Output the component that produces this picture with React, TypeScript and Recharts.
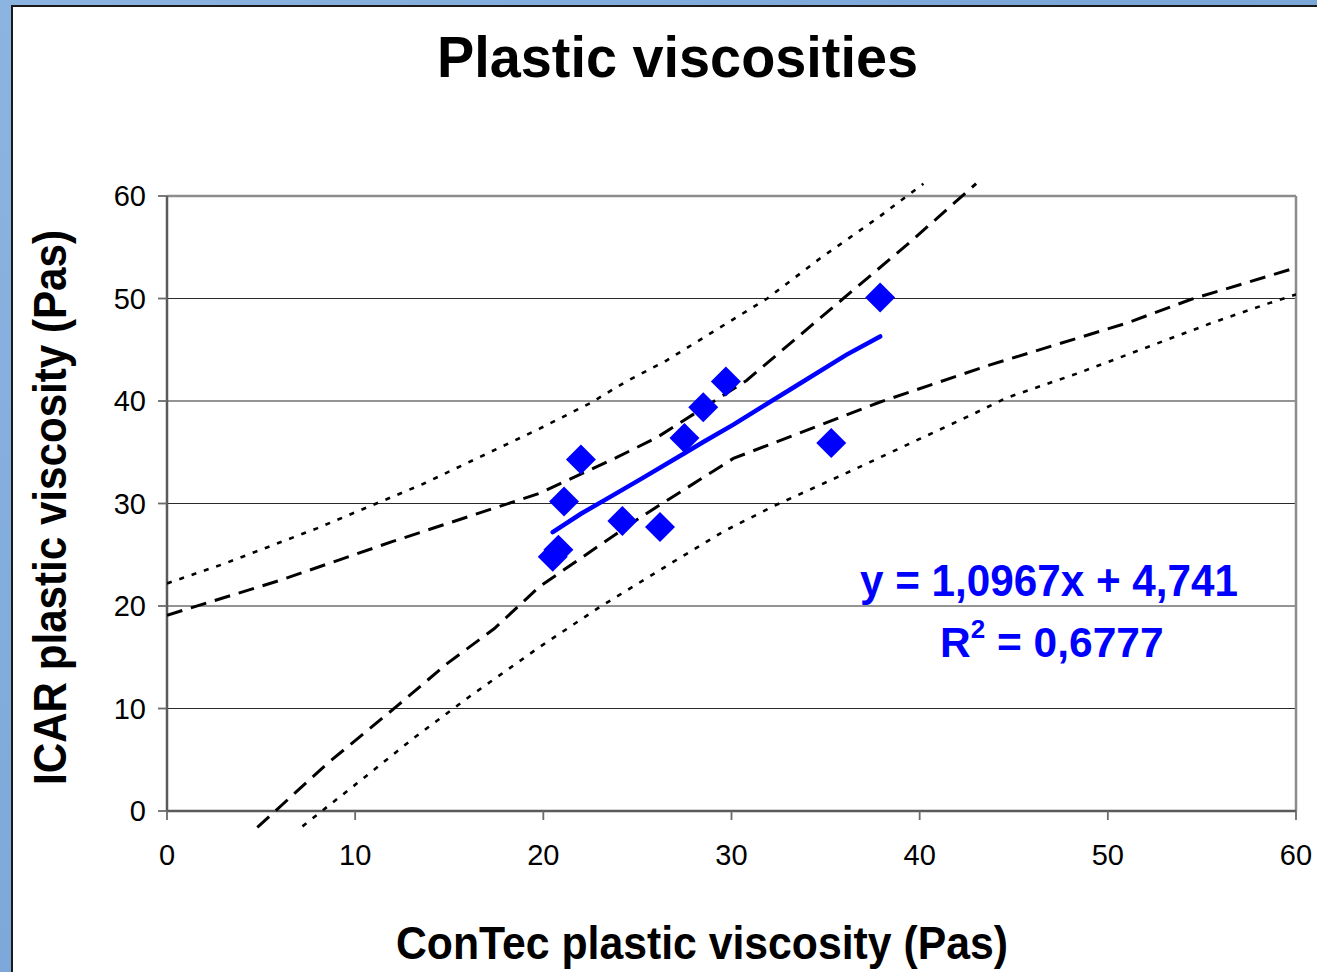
import React from 'react';
import {
  ComposedChart,
  XAxis,
  YAxis,
  CartesianGrid,
  ReferenceLine,
  Line,
  Scatter,
} from 'recharts';

// Measured plastic viscosities (Pas): ConTec on x, ICAR on y
const contecVisc = [20.5, 20.8, 21.1, 22.0, 24.2, 26.2, 27.5, 28.5, 29.7, 35.3, 37.9];
const icarVisc = [24.8, 25.5, 30.2, 34.3, 28.3, 27.7, 36.4, 39.4, 41.9, 35.9, 50.1];

// Linear trend line (y = 1,0967x + 4,741)
const trendX = [20.5, 22.0, 23.6, 25.2, 27.5, 28.5, 30.1, 33.1, 36.1, 37.9];
const trendY = [27.2, 29.0, 30.7, 32.4, 34.9, 36.0, 37.7, 41.1, 44.5, 46.3];

// Confidence band of the mean (dashed)
const confUpperX = [0, 6.0, 12.0, 19.8, 23.9, 26.0, 30.8, 35.1, 39.3, 43.0];
const confUpperY = [19.1, 22.5, 26.3, 31.0, 34.5, 36.4, 42.0, 48.7, 55.2, 61.2];
const confLowerX = [4.8, 8.5, 12.2, 14.9, 17.4, 19.8, 25.2, 30.1, 34.5, 37.9, 43.7, 51.0, 54.4, 60];
const confLowerY = [-1.6, 4.6, 10.2, 14.4, 17.8, 21.9, 28.7, 34.4, 37.5, 39.9, 43.5, 47.6, 49.9, 53.0];

// Prediction band (dotted)
const predUpperX = [0, 3.0, 8.0, 13.6, 19.8, 22.5, 24.4, 26.5, 30.3, 31.9, 34.7, 37.8, 40.2];
const predUpperY = [22.2, 24.1, 27.6, 31.9, 37.3, 39.8, 41.9, 43.9, 48.2, 50.0, 53.9, 57.9, 61.2];
const predLowerX = [7.2, 8.3, 10.1, 13.1, 16.1, 19.8, 23.0, 26.9, 29.6, 32.3, 36.5, 40.0, 42.7, 44.6, 48.4, 52.6, 55.5, 58.5, 60];
const predLowerY = [-1.5, 0.1, 2.7, 7.1, 11.2, 16.0, 19.9, 24.3, 27.3, 29.8, 33.3, 36.3, 38.6, 40.3, 42.7, 45.6, 47.6, 49.5, 50.4];

const axisTicks = [0, 10, 20, 30, 40, 50, 60];

const title = 'Plastic viscosities';
const xTitle = 'ConTec plastic viscosity (Pas)';
const yTitle = 'ICAR plastic viscosity (Pas)';
const equation = 'y = 1,0967x + 4,741';
const rSquared = '0,6777';

const zip = (xs: number[], ys: number[]) => xs.map((x, i) => ({ x, y: ys[i] }));

const points = zip(contecVisc, icarVisc);
const trend = zip(trendX, trendY);
const confUpper = zip(confUpperX, confUpperY);
const confLower = zip(confLowerX, confLowerY);
const predUpper = zip(predUpperX, predUpperY);
const predLower = zip(predLowerX, predLowerY);

const FONT = '"Liberation Sans", Arial, Helvetica, sans-serif';
const BLUE = '#0000ff';
const W = 1317;
const H = 972;

const Diamond = (props: any) => {
  const { cx, cy } = props;
  if (cx == null || cy == null) return null;
  const r = 15;
  return (
    <polygon
      points={`${cx},${cy - r} ${cx + r},${cy} ${cx},${cy + r} ${cx - r},${cy}`}
      fill={BLUE}
    />
  );
};

export default function App() {
  return (
    <div
      style={{
        position: 'absolute',
        left: 0,
        top: 0,
        width: W,
        height: H,
        overflow: 'hidden',
        background: 'linear-gradient(135deg, #8cb4e0 0%, #7aa6d8 50%, #86b0de 100%)',
      }}
    >
      <div
        style={{
          position: 'absolute',
          left: 11,
          top: 5,
          width: 1330,
          height: 990,
          background: '#ffffff',
          border: '2px solid #1a1a1a',
        }}
      />

      {/* axes, gridlines and plot frame */}
      <div style={{ position: 'absolute', left: 0, top: 0 }}>
        <ComposedChart
          width={W}
          height={H}
          data={[{ x: 0, y: 0 }, { x: 60, y: 60 }]}
          margin={{ top: 196, right: 21, bottom: 101, left: 107 }}
        >
          <CartesianGrid vertical={false} stroke="#2a2a2a" strokeWidth={1.2} />
          <XAxis
            type="number"
            dataKey="x"
            domain={[0, 60]}
            ticks={axisTicks}
            allowDataOverflow
            height={60}
            tickSize={9}
            tickMargin={24}
            axisLine={{ stroke: '#5a5a5a', strokeWidth: 2.5 }}
            tickLine={{ stroke: '#6a6a6a', strokeWidth: 1.8 }}
            tick={{ fill: '#000', fontSize: 29, fontFamily: FONT }}
          />
          <YAxis
            type="number"
            dataKey="y"
            domain={[0, 60]}
            ticks={axisTicks}
            allowDataOverflow
            width={60}
            tickSize={9}
            tickMargin={12}
            axisLine={{ stroke: '#5a5a5a', strokeWidth: 2.5 }}
            tickLine={{ stroke: '#6a6a6a', strokeWidth: 1.8 }}
            tick={{ fill: '#000', fontSize: 29, fontFamily: FONT }}
          />
          <ReferenceLine y={60} stroke="#8c8c8c" strokeWidth={2.5} />
          <ReferenceLine x={60} stroke="#8c8c8c" strokeWidth={2.5} />
        </ComposedChart>
      </div>

      {/* data layer: bands may run slightly past the frame */}
      <div style={{ position: 'absolute', left: 0, top: 0 }}>
        <ComposedChart
          width={W}
          height={H}
          margin={{ top: 180.625, right: 21, bottom: 142.55, left: 167 }}
        >
          <XAxis type="number" dataKey="x" domain={[0, 60]} allowDataOverflow hide />
          <YAxis type="number" dataKey="y" domain={[-1.8, 61.5]} allowDataOverflow hide />
          <Line
            data={predUpper}
            dataKey="y"
            type="linear"
            stroke="#000"
            strokeWidth={2.6}
            strokeDasharray="5 8"
            dot={false}
            isAnimationActive={false}
          />
          <Line
            data={predLower}
            dataKey="y"
            type="linear"
            stroke="#000"
            strokeWidth={2.6}
            strokeDasharray="5 8"
            dot={false}
            isAnimationActive={false}
          />
          <Line
            data={confUpper}
            dataKey="y"
            type="linear"
            stroke="#000"
            strokeWidth={3}
            strokeDasharray="16 9"
            dot={false}
            isAnimationActive={false}
          />
          <Line
            data={confLower}
            dataKey="y"
            type="linear"
            stroke="#000"
            strokeWidth={3}
            strokeDasharray="16 9"
            dot={false}
            isAnimationActive={false}
          />
          <Line
            data={trend}
            dataKey="y"
            type="linear"
            stroke={BLUE}
            strokeWidth={4.5}
            strokeLinecap="round"
            dot={false}
            isAnimationActive={false}
          />
          <Scatter data={points} dataKey="y" shape={<Diamond />} isAnimationActive={false} />
        </ComposedChart>
      </div>

      {/* titles and regression annotation */}
      <svg
        width={W}
        height={H}
        style={{ position: 'absolute', left: 0, top: 0, pointerEvents: 'none' }}
      >
        <text
          x={677.5}
          y={77}
          textAnchor="middle"
          fontFamily={FONT}
          fontWeight="bold"
          fontSize={57}
          textLength={481}
          lengthAdjust="spacingAndGlyphs"
          fill="#000"
        >
          {title}
        </text>
        <text
          x={702}
          y={959}
          textAnchor="middle"
          fontFamily={FONT}
          fontWeight="bold"
          fontSize={46}
          textLength={612}
          lengthAdjust="spacingAndGlyphs"
          fill="#000"
        >
          {xTitle}
        </text>
        <text
          transform="translate(66, 507.5) rotate(-90)"
          textAnchor="middle"
          fontFamily={FONT}
          fontWeight="bold"
          fontSize={46}
          textLength={555}
          lengthAdjust="spacingAndGlyphs"
          fill="#000"
        >
          {yTitle}
        </text>
        <text
          x={860}
          y={596}
          fontFamily={FONT}
          fontWeight="bold"
          fontSize={44}
          textLength={378}
          lengthAdjust="spacingAndGlyphs"
          fill={BLUE}
        >
          {equation}
        </text>
        <text x={940} y={657} fontFamily={FONT} fontWeight="bold" fontSize={42.5} fill={BLUE}>
          <tspan>R</tspan>
          <tspan fontSize={26} dy={-19}>2</tspan>
          <tspan dy={19}>{` = ${rSquared}`}</tspan>
        </text>
      </svg>
    </div>
  );
}
